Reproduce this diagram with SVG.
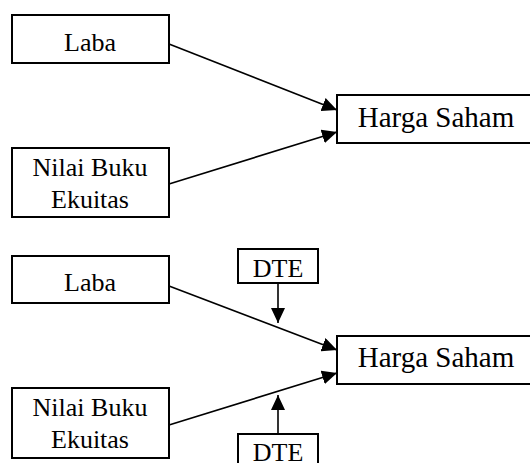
<svg xmlns="http://www.w3.org/2000/svg" width="530" height="463" viewBox="0 0 530 463">
  <style>
    .box { fill: #ffffff; stroke: #000000; stroke-width: 2; }
    .t { font-family: "Liberation Serif", "Times New Roman", serif; font-size: 26px; fill: #000000; text-anchor: middle; }
    .big { font-size: 29px; }
    .edge { stroke: #000000; stroke-width: 1.6; fill: none; marker-end: url(#arrow); }
  </style>
  <defs>
    <marker id="arrow" markerUnits="userSpaceOnUse" markerWidth="16" markerHeight="14" refX="15" refY="7" orient="auto">
      <path d="M0,0 L15,7 L0,14 z" fill="#000000"/>
    </marker>
  </defs>
  <rect width="530" height="463" fill="#ffffff"/>

  <g id="connectors">
    <line class="edge" x1="169" y1="44" x2="337" y2="110"/>
    <line class="edge" x1="169" y1="184" x2="337" y2="132"/>
    <line class="edge" x1="169" y1="286" x2="337" y2="350"/>
    <line class="edge" x1="169" y1="425" x2="337" y2="373"/>
    <line class="edge" x1="278" y1="283" x2="278" y2="323"/>
    <line class="edge" x1="278" y1="434" x2="278" y2="395"/>
  </g>

  <g id="laba1">
    <rect class="box" x="12" y="15" width="157" height="48"/>
    <text class="t" x="90" y="51">Laba</text>
  </g>
  <g id="nilai1">
    <rect class="box" x="12" y="148" width="157" height="69"/>
    <text class="t" x="90" y="176">Nilai Buku</text>
    <text class="t" x="90" y="208">Ekuitas</text>
  </g>
  <g id="harga1">
    <rect class="box" x="337" y="95" width="200" height="48"/>
    <text class="t big" x="436" y="127">Harga Saham</text>
  </g>

  <g id="laba2">
    <rect class="box" x="12" y="256" width="157" height="47"/>
    <text class="t" x="90" y="291">Laba</text>
  </g>
  <g id="dte1">
    <rect class="box" x="238" y="249" width="80" height="34"/>
    <text class="t" x="278" y="277">DTE</text>
  </g>
  <g id="harga2">
    <rect class="box" x="337" y="336" width="200" height="48"/>
    <text class="t big" x="436" y="367">Harga Saham</text>
  </g>
  <g id="nilai2">
    <rect class="box" x="12" y="388" width="157" height="70"/>
    <text class="t" x="90" y="416">Nilai Buku</text>
    <text class="t" x="90" y="448">Ekuitas</text>
  </g>
  <g id="dte2">
    <rect class="box" x="238" y="434" width="80" height="40"/>
    <text class="t" x="278" y="461">DTE</text>
  </g>
</svg>
